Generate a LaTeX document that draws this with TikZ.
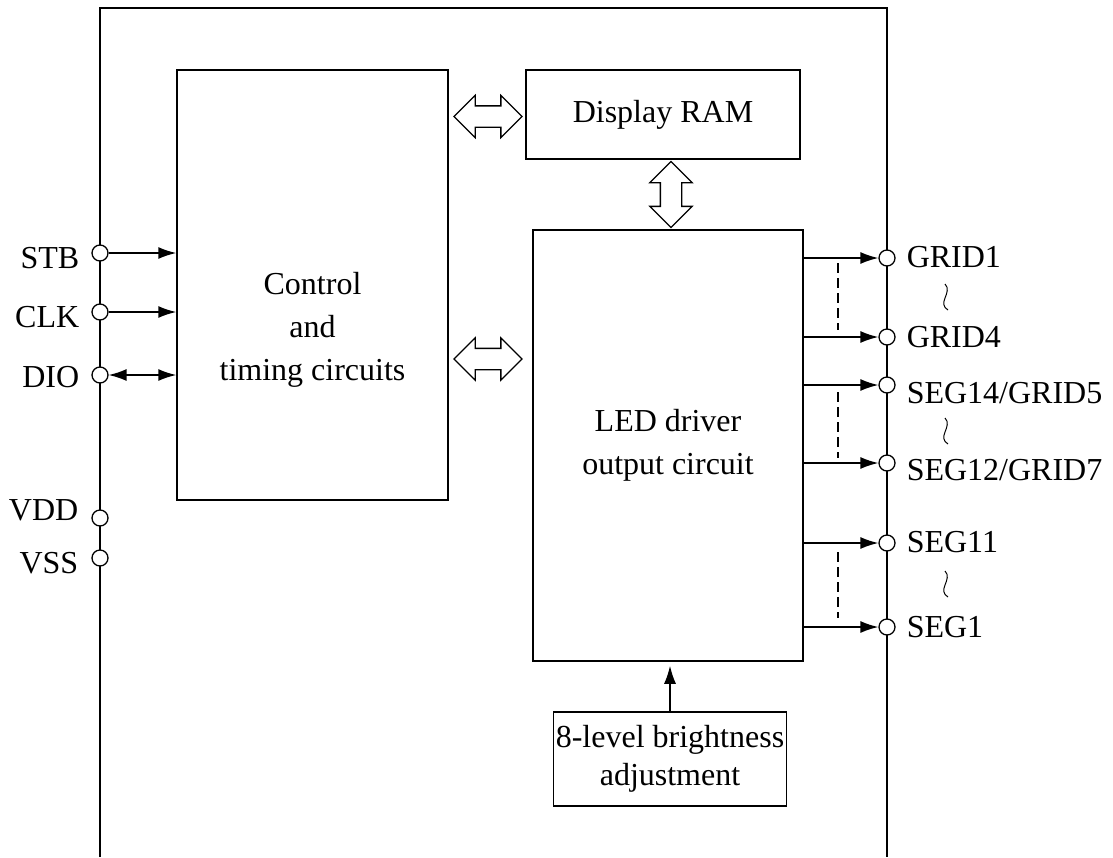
\documentclass[tikz,border=0pt]{standalone}
\usepackage{fontspec}
\setmainfont{Liberation Serif}
\usetikzlibrary{arrows.meta, shapes.arrows, positioning}

\tikzset{
  box/.style={draw, line width=1.5pt, inner sep=0pt, align=center},
  pad/.style={circle, draw, fill=white, line width=1.3pt, minimum size=16pt, inner sep=0pt},
  lbl/.style={inner sep=0pt, text height=21pt, text depth=0pt},
  bus/.style={double arrow, draw, line width=1.3pt, inner xsep=0pt, inner ysep=10pt, minimum height=68pt, double arrow head extend=10.5pt},
}

\begin{document}
\begin{tikzpicture}[x=1pt, y=-1pt, >={Latex[length=18pt, width=12pt]}, line width=1.5pt, font=\fontsize{32pt}{43pt}\selectfont]
	%\draw [thin, help lines] (0,0) grid (1113,857);
	\useasboundingbox (0,0) rectangle (1113,857);
	\draw (100,857) -- (100,8) -- (887,8) -- (887,857);
	% blocks
	\node[box, minimum width=271pt, minimum height=430pt] (ctrl) at (312.5,285) {};
	\node[align=center, inner sep=0pt] (ctrltxt) at (312.5,330) {Control\\and\\timing circuits};
	\node[box, minimum width=274pt, minimum height=89pt] (ram) at (663,114.5) {Display RAM};
	\node[box, minimum width=270pt, minimum height=431pt] (led) at (668,445.5) {LED driver\\output circuit};
	\node[box, minimum width=233pt, minimum height=94pt, font=\fontsize{32pt}{38pt}\selectfont] (bright) at (670,759) {8-level brightness\\adjustment};
	\node[bus] (bus1) at (488,116.5) {};
	\node[bus] (bus2) at (488,359) {};
	\node[bus, rotate=90, minimum height=66pt] (bus3) at (671,194.5) {};
	% pins, left
	\node[pad] (stb) at (100,253) {};
	\node[pad] (clk) at (100,312) {};
	\node[pad] (dio) at (100,375) {};
	\node[pad] (vdd) at (100,518) {};
	\node[pad] (vss) at (100,558) {};
	\node[lbl, anchor=east] (stbl) at (80,258) {STB};
	\node[lbl, anchor=east] (clkl) at (80,317) {CLK};
	\node[lbl, anchor=east] (diol) at (80,377) {DIO};
	\node[lbl, anchor=east] (vddl) at (79,510) {VDD};
	\node[lbl, anchor=east] (vssl) at (79,563) {VSS};
	% pins, right
	\node[pad] (grid1) at (887,258) {};
	\node[pad] (grid4) at (887,337) {};
	\node[pad] (seg14) at (887,385) {};
	\node[pad] (seg12) at (887,463) {};
	\node[pad] (seg11) at (887,543) {};
	\node[pad] (seg1) at (887,627) {};
	\node[lbl, anchor=west] (grid1l) at (906,257) {GRID1};
	\node[lbl, anchor=west] (grid4l) at (906,337) {GRID4};
	\node[lbl, anchor=west] (seg14l) at (906,393) {SEG14/GRID5};
	\node[lbl, anchor=west] (seg12l) at (906,470) {SEG12/GRID7};
	\node[lbl, anchor=west] (seg11l) at (906,542) {SEG11};
	\node[lbl, anchor=west] (seg1l) at (906,627) {SEG1};
	\foreach \y in {298, 432, 585}
		\draw[line width=1pt] (945,\y-14) .. controls (949,\y-10) and (947,\y-5) .. (945,\y) .. controls (943,\y+5) and (943,\y+9) .. (948,\y+12);
	% connections
	\foreach \p in {stb, clk}
		\draw[->] (\p) -- (\p -| ctrl.west);
	\draw[<->] (dio) -- (dio -| ctrl.west);
	\foreach \p in {grid1, grid4, seg14, seg12, seg11, seg1}
		\draw[->] (\p -| led.east) -- (\p);
	\draw[dash pattern=on 10pt off 5pt] (838,263) -- (838,330);
	\draw[dash pattern=on 10pt off 5pt] (838,392) -- (838,458);
	\draw[dash pattern=on 10pt off 5pt] (838,552) -- (838,618);
	\draw[->, shorten >=4pt] (bright) -- (bright |- led.south);
\end{tikzpicture}
\end{document}
